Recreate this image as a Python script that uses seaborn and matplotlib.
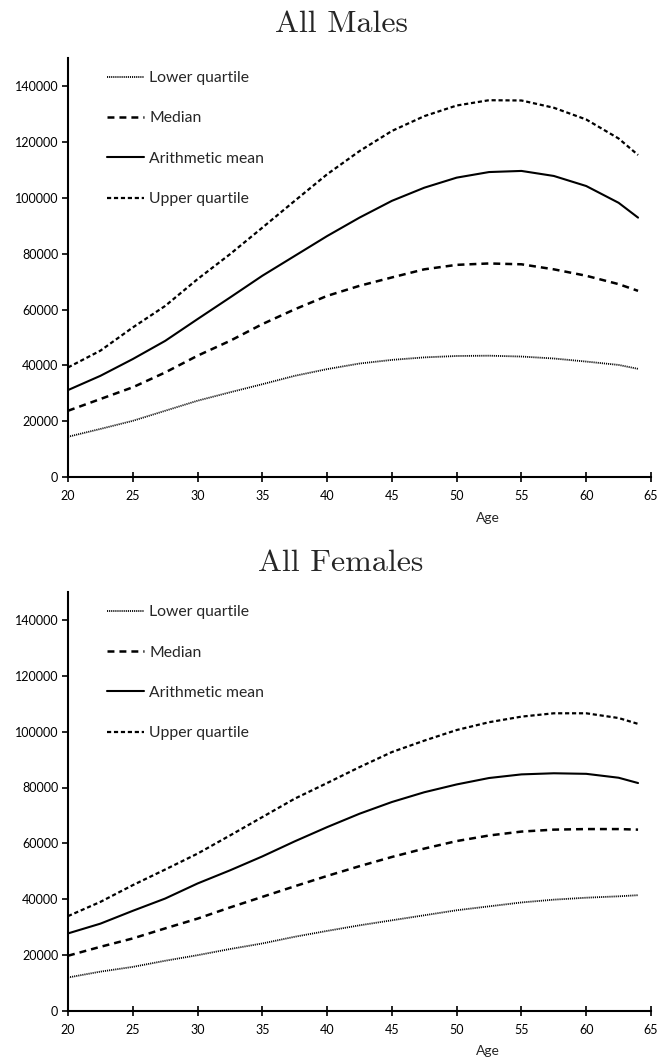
import numpy as np
import pandas as pd
import matplotlib
matplotlib.use("Agg")
import matplotlib.pyplot as plt
import seaborn as sns

# ---- data ----
ages = [20, 22.5, 25, 27.5, 30, 32.5, 35, 37.5, 40, 42.5, 45, 47.5,
        50, 52.5, 55, 57.5, 60, 62.5, 64]

male_lower = [14500, 17300, 20200, 23800, 27400, 30400, 33300, 36300, 38700, 40700,
              42000, 42900, 43400, 43500, 43200, 42500, 41400, 40200, 38800]
male_median = [23800, 28000, 32200, 37500, 43500, 48800, 54800, 60100, 64900, 68500,
               71500, 74400, 76000, 76500, 76200, 74400, 72100, 69100, 66700]
male_mean = [31200, 36300, 42300, 48800, 56600, 64300, 72100, 79200, 86300, 92900,
             98900, 103600, 107200, 109200, 109600, 107800, 104200, 98200, 92900]
male_upper = [39300, 45300, 53600, 61300, 70900, 79800, 89300, 98900, 108400, 116700,
              123900, 129200, 133000, 134900, 134800, 132200, 128000, 121200, 115300]

female_lower = [11900, 14000, 15700, 17900, 19900, 22100, 24100, 26500, 28600, 30600,
                32400, 34200, 36000, 37400, 38800, 39800, 40500, 41000, 41400]
female_median = [19700, 22900, 25900, 29500, 33000, 37000, 40800, 44600, 48300, 51800,
                 55100, 58100, 60800, 62800, 64200, 64900, 65100, 65100, 64900]
female_mean = [27700, 31200, 35800, 40200, 45600, 50300, 55300, 60700, 65800, 70600,
               74800, 78300, 81100, 83400, 84700, 85100, 84900, 83500, 81600]
female_upper = [33900, 39000, 45000, 50600, 56300, 62800, 69400, 76000, 81600, 87300,
                92700, 96800, 100600, 103400, 105400, 106600, 106600, 104900, 102800]

series_labels = ["Lower quartile", "Median", "Arithmetic mean", "Upper quartile"]
titles = ["All Males", "All Females"]
x_ticks = [20, 25, 30, 35, 40, 45, 50, 55, 60, 65]
y_ticks = [0, 20000, 40000, 60000, 80000, 100000, 120000, 140000]

# ---- styling ----
sns.set_style("ticks")
plt.rcParams["font.family"] = ["Lato", "DejaVu Sans"]
plt.rcParams["lines.scale_dashes"] = False

styles = {
    "Lower quartile": dict(linestyle=(0, (0.8, 0.7)), linewidth=1.3),
    "Median": dict(linestyle=(0, (5.0, 3.6)), linewidth=1.8),
    "Arithmetic mean": dict(linestyle="-", linewidth=1.5),
    "Upper quartile": dict(linestyle=(0, (3.0, 2.0)), linewidth=1.6),
}

W, H = 661, 1064
fig = plt.figure(figsize=(W / 100, H / 100), dpi=100)

def px_axes(left, top, right, bottom):
    return fig.add_axes([left / W, 1 - bottom / H, (right - left) / W, (bottom - top) / H])

axes_specs = [
    (68, 58, 651, 477.3, 24, 518),
    (68, 592.2, 651, 1010.7, 563, 1051),
]
data_sets = [
    [male_lower, male_median, male_mean, male_upper],
    [female_lower, female_median, female_mean, female_upper],
]

for (l, t, r, b, ty, agey), vals, title in zip(axes_specs, data_sets, titles):
    ax = px_axes(l, t, r, b)
    for lab, v in zip(series_labels, vals):
        sns.lineplot(x=ages, y=v, ax=ax, color="black", label=lab, **styles[lab])
    ax.set_xlim(20, 65)
    ax.set_ylim(0, 150000)
    ax.set_xticks(x_ticks)
    ax.set_yticks(y_ticks)
    ax.set_xticklabels([str(x) for x in x_ticks])
    ax.set_yticklabels([str(y) for y in y_ticks])
    ax.tick_params(axis="both", labelsize=9, colors="black", width=1.2)
    ax.tick_params(axis="y", direction="out", length=4, pad=3)
    ax.tick_params(axis="x", direction="inout", length=7, pad=6)
    sns.despine(ax=ax)
    for s in ["left", "bottom"]:
        ax.spines[s].set_linewidth(1.5)
        ax.spines[s].set_color("black")
    ax.set_xlabel("Age", fontsize=10)
    ax.xaxis.label.set_va("center")
    ax.set_ylabel("")
    ax.xaxis.set_label_coords((488 - l) / (r - l), (b - agey) / (b - t))
    ax.legend(loc="upper left", bbox_to_anchor=(0.067, 0.969), frameon=False,
              fontsize=11.3, handlelength=2.35, handletextpad=0.33,
              labelspacing=1.68, borderpad=0, borderaxespad=0)
    fig.text(341 / W, 1 - ty / H, title, family="cmr10", fontsize=23,
             ha="center", va="center")

fig.savefig("out.png", dpi=100)
